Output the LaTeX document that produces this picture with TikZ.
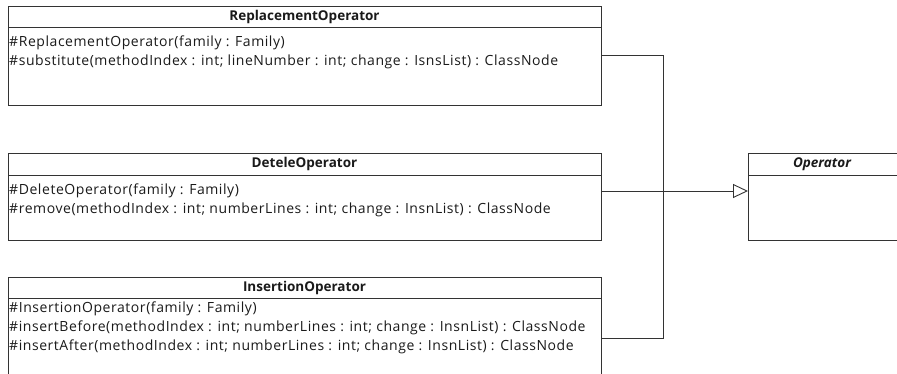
\documentclass[tikz,border=0pt]{standalone}
\usepackage{fontspec}
\setmainfont{Open Sans}
\newfontfamily\memberfont{Open Sans}[LetterSpace=4]
\usetikzlibrary{arrows.meta}
\definecolor{linec}{HTML}{333333}
\definecolor{textc}{HTML}{1A1A1A}
\tikzset{
  classbox/.style={draw=linec, line width=0.9pt, rectangle, inner sep=0pt, anchor=north west},
  ctitle/.style={font=\fontsize{13.5}{15}\selectfont\bfseries, text=textc, inner sep=0pt},
  member/.style={font=\memberfont\fontsize{14}{16}\selectfont, text=textc, inner sep=0pt, anchor=west},
  sep/.style={draw=linec, line width=0.9pt},
  conn/.style={draw=linec, line width=0.9pt},
  inherit/.style={conn, -{Triangle[open, length=15pt, width=14pt, fill=white]}}
}
\begin{document}
\begin{tikzpicture}[x=1pt,y=-1pt]
\useasboundingbox (0,0) rectangle (897,374);
\begin{scope}
\clip (0,0) rectangle (897,374);
% ReplacementOperator
\node[classbox, minimum width=593pt, minimum height=99pt] (rep) at (8,6) {};
\node[ctitle] (reptitle) at (304.5,17) {ReplacementOperator};
\draw[sep] (rep.west |- 0,27) -- (rep.east |- 0,27);
\node[member] (rep1) at (9,43) {\#ReplacementOperator(family : Family)};
\node[member] (rep2) at (9,62) {\#substitute(methodIndex : int; lineNumber : int; change : IsnsList) : ClassNode};
% DeteleOperator
\node[classbox, minimum width=593pt, minimum height=87pt] (del) at (8,153) {};
\node[ctitle] (deltitle) at (304.5,164) {DeteleOperator};
\draw[sep] (del.west |- 0,175) -- (del.east |- 0,175);
\node[member] (del1) at (9,191) {\#DeleteOperator(family : Family)};
\node[member] (del2) at (9,210) {\#remove(methodIndex : int; numberLines : int; change : InsnList) : ClassNode};
% InsertionOperator
\node[classbox, minimum width=593pt, minimum height=100pt] (ins) at (8,277) {};
\node[ctitle] (institle) at (304.5,288) {InsertionOperator};
\draw[sep] (ins.west |- 0,298) -- (ins.east |- 0,298);
\node[member] (ins1) at (9,309) {\#InsertionOperator(family : Family)};
\node[member] (ins2) at (9,328) {\#insertBefore(methodIndex : int; numberLines : int; change : InsnList) : ClassNode};
\node[member] (ins3) at (9,347) {\#insertAfter(methodIndex : int; numberLines : int; change : InsnList) : ClassNode};
% Operator
\node[classbox, minimum width=152pt, minimum height=87pt] (op) at (748,153) {};
\node[ctitle] (optitle) at (822,164) {\itshape Operator};
\draw[sep] (op.west |- 0,175) -- (op.east |- 0,175);
% connectors
\coordinate (jtop) at (663,55);
\coordinate (jbot) at (663,338);
\draw[conn] (rep.east |- jtop) -- (jtop) -- (jbot) -- (ins.east |- jbot);
\draw[inherit] (del.east |- 0,191) -- (op.west |- 0,191);
\end{scope}
\end{tikzpicture}
\end{document}
